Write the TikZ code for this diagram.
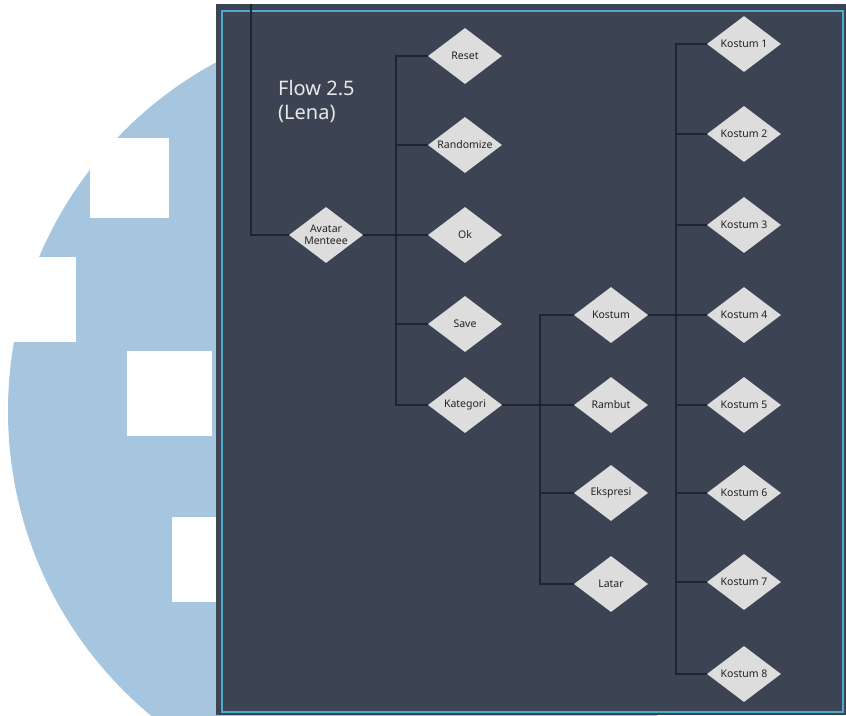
\documentclass[tikz,border=0pt]{standalone}
\usepackage{fontspec}
\setmainfont{Noto Sans}
\usetikzlibrary{shapes.geometric,positioning}
\definecolor{panelbg}{RGB}{60,68,83}
\definecolor{frameblue}{RGB}{77,170,205}
\definecolor{circleblue}{RGB}{166,198,224}
\definecolor{nodegray}{RGB}{221,221,221}
\definecolor{linkdark}{RGB}{30,36,48}
\definecolor{textdark}{RGB}{35,35,35}
\definecolor{titlegray}{RGB}{232,232,232}
\tikzset{
  choice/.style ={diamond, aspect=1.32, fill=nodegray, draw=none, inner sep=0pt,
                  minimum width=74pt, minimum height=56pt, align=center,
                  text=textdark, font=\fontsize{10.5}{12}\selectfont},
  link/.style   ={draw=linkdark, line width=1.1pt},
  title/.style  ={text=titlegray, align=left, inner sep=0pt,
                  font=\fontsize{20}{24}\selectfont},
  panel/.style  ={fill=panelbg},
  frame/.style  ={draw=frameblue, line width=1.8pt}
}

\begin{document}
\begin{tikzpicture}[x=1pt,y=-1pt]
\useasboundingbox (0,0) rectangle (846,715);
\clip (0,0) rectangle (846,715);
% Backdrop
\fill[white] (0,0) rectangle (846,715);
\fill[circleblue] (404,411) circle (396);
\foreach \xa/\ya/\xb/\yb in {90/138/169/218, 0/257/76/342, 127/351/212/436, 172/517/216/602}{
  \fill[white] (\xa,\ya) rectangle (\xb,\yb);
}
\fill[panel] (216,4) rectangle (846,715);
\draw[frame] (222,11) rectangle (843,712);
\node[title, anchor=north west] (title) at (278,80) {Flow 2.5\\(Lena)};
% Bus lines
\coordinate (entry) at (251,4);
\coordinate (bus1) at (396,0);
\coordinate (bus2) at (540,0);
\coordinate (bus3) at (676,0);
% Level 1
\node[choice] (avatar) at (326,235) {Avatar\\Menteee};
% Level 2
\node[choice] (reset)     at (465,56)  {Reset};
\node[choice] (randomize) at (465,145) {Randomize};
\node[choice] (ok)        at (465,235) {Ok};
\node[choice] (save)      at (465,324) {Save};
\node[choice] (kategori)  at (465,405) {Kategori};
% Level 3
\node[choice] (kostum)   at (611,315) {Kostum};
\node[choice] (rambut)   at (611,405) {Rambut};
\node[choice] (ekspresi) at (611,493) {Ekspresi};
\node[choice] (latar)    at (611,584) {Latar};
% Level 4
\foreach \i/\y in {1/44, 2/134, 3/225, 4/315, 5/405, 6/493, 7/582, 8/674}{
  \node[choice] (kostum\i) at (744,\y) {Kostum \i};
}
% Links
\draw[link] (entry) |- (avatar.west);
\draw[link] (avatar.east) -- (ok.west);
\draw[link] (reset.west) -- (reset.west -| bus1) |- (kategori.west);
\foreach \n in {randomize, save}{
  \draw[link] (\n.west) -- (\n.west -| bus1);
}
\draw[link] (kategori.east) -- (rambut.west);
\draw[link] (kostum.west) -- (kostum.west -| bus2) |- (latar.west);
\draw[link] (ekspresi.west) -- (ekspresi.west -| bus2);
\draw[link] (kostum.east) -- (kostum4.west);
\draw[link] (kostum1.west) -- (kostum1.west -| bus3) |- (kostum8.west);
\foreach \i in {2,3,5,6,7}{
  \draw[link] (kostum\i.west) -- (kostum\i.west -| bus3);
}
\end{tikzpicture}
\end{document}
